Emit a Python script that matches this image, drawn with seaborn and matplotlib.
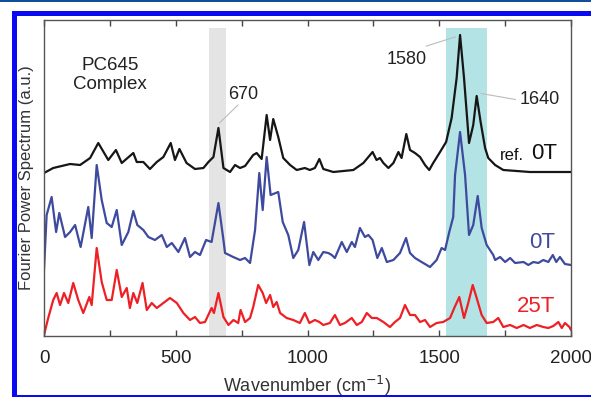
import matplotlib
matplotlib.use("Agg")
import matplotlib.pyplot as plt
import seaborn as sns
from matplotlib.patches import Rectangle
from matplotlib.ticker import MultipleLocator

# =========================
# DADES (llegides del gràfic)
# =========================
wn_ref = [0, 35, 99, 137, 175, 206, 244, 273, 295, 339, 352, 377, 402, 428, 453,
          481, 497, 514, 541, 573, 605, 624, 643, 662, 681, 706, 725, 744, 763,
          794, 807, 826, 845, 858, 870, 889, 908, 934, 959, 990, 1009, 1028, 1045,
          1060, 1098, 1136, 1174, 1212, 1231, 1247, 1262, 1275, 1288, 1307, 1326,
          1345, 1357, 1375, 1389, 1408, 1427, 1446, 1462, 1477, 1503, 1526, 1547,
          1566, 1579, 1594, 1613, 1629, 1642, 1657, 1674, 1686, 1712, 1743, 1794,
          1844, 1895, 1946, 2000]
int_ref = [163, 168, 172, 171, 178, 193, 176, 186, 173, 183, 174, 174, 167, 174, 179,
           193, 176, 187, 173, 167, 168, 174, 179, 208, 168, 164, 171, 168, 170,
           181, 183, 177, 221, 196, 217, 199, 178, 171, 166, 168, 166, 168, 177,
           167, 164, 165, 166, 173, 179, 184, 176, 178, 173, 168, 173,
           184, 178, 202, 186, 183, 179, 171, 166, 173, 184, 194, 218,
           258, 301, 258, 193, 211, 240, 214, 188, 178, 171, 166, 165,
           164, 164, 164, 164]

wn_0t = [0, 10, 29, 46, 58, 80, 99, 118, 139, 168, 181, 200, 219, 238, 257, 276,
         295, 320, 339, 354, 377, 396, 421, 447, 466, 485, 510, 535, 554, 573,
         592, 615, 636, 662, 681, 687, 718, 744, 763, 782, 801, 817, 830, 845,
         860, 889, 906, 927, 946, 965, 987, 1007, 1022, 1041, 1060, 1079, 1092,
         1104, 1130, 1149, 1168, 1180, 1199, 1218, 1231, 1247, 1265, 1282, 1301,
         1326, 1351, 1374, 1389, 1408, 1433, 1465, 1490, 1509, 1522, 1538, 1553,
         1560, 1579, 1598, 1613, 1629, 1646, 1661, 1680, 1705, 1712, 1731, 1750,
         1769, 1788, 1820, 1838, 1857, 1876, 1895, 1914, 1931, 1944, 1958, 1977,
         2000]
int_0t = [66, 121, 139, 104, 123, 99, 104, 111, 89, 129, 98, 171, 136, 113, 109, 126,
          91, 104, 125, 111, 106, 99, 96, 101, 89, 93, 84, 98, 79, 84,
          81, 96, 94, 133, 96, 83, 79, 76, 78, 73, 106, 163, 126, 179,
          141, 144, 114, 101, 78, 86, 114, 71, 84, 76, 84, 83, 81,
          78, 94, 84, 94, 89, 108, 99, 101, 96, 78, 88, 74,
          76, 83, 98, 83, 78, 74, 69, 76, 88, 86, 104, 119,
          161, 204, 161, 101, 111, 140, 108, 91, 81, 76, 79, 74,
          78, 73, 74, 71, 74, 73, 76, 74, 81, 74, 79, 72,
          71]

wn_25t = [0, 16, 35, 48, 61, 76, 92, 111, 130, 149, 172, 181, 200, 219, 238, 257,
          276, 295, 314, 326, 339, 354, 374, 390, 409, 428, 453, 478, 504, 529,
          554, 573, 592, 611, 636, 645, 662, 681, 700, 719, 737, 746, 763, 782,
          794, 813, 830, 843, 858, 870, 883, 896, 921, 946, 971, 990, 1007, 1028,
          1045, 1060, 1085, 1104, 1123, 1142, 1168, 1187, 1206, 1225, 1244, 1263,
          1288, 1313, 1332, 1351, 1370, 1389, 1408, 1427, 1446, 1465, 1490, 1515,
          1541, 1557, 1576, 1594, 1610, 1627, 1642, 1661, 1680, 1705, 1724, 1743,
          1769, 1794, 1820, 1844, 1870, 1895, 1914, 1933, 1952, 1965, 1977, 1994,
          2000]
int_25t = [1, 18, 36, 43, 31, 43, 33, 53, 36, 23, 39, 31, 88, 54, 36, 36,
           66, 39, 48, 28, 43, 33, 53, 26, 33, 28, 33, 38, 33, 23,
           16, 19, 13, 14, 28, 23, 43, 19, 11, 16, 13, 26, 14, 18,
           29, 51, 43, 33, 41, 29, 34, 23, 18, 16, 13, 23, 13, 16,
           14, 11, 13, 21, 11, 13, 18, 11, 14, 23, 18, 18,
           14, 9, 14, 18, 31, 21, 21, 14, 16, 9, 13, 14,
           18, 28, 39, 18, 33, 51, 38, 21, 13, 14, 18, 9,
           11, 8, 11, 8, 11, 9, 8, 10, 14, 8, 13, 9,
           6]

banda_670 = (628, 689)
banda_1600 = (1526, 1683)

# =========================
# FIGURA
# =========================
sns.set_style("ticks")
plt.rcParams['font.family'] = ['Liberation Sans', 'DejaVu Sans']

fig = plt.figure(figsize=(5.91, 3.97), dpi=100)
ax = fig.add_axes([44 / 591, 1 - 336 / 397, 527 / 591, 316 / 397])

# bandes ombrejades
ax.axvspan(*banda_670, ymin=0, ymax=0.975, color='#e4e4e4', lw=0, zorder=0)
ax.axvspan(*banda_1600, ymin=0, ymax=0.975, color='#b3e3e4', lw=0, zorder=0)

sns.lineplot(x=wn_ref, y=int_ref, ax=ax, color='#161616', lw=1.6, sort=False)
sns.lineplot(x=wn_0t, y=int_0t, ax=ax, color='#3e4a9e', lw=1.6, sort=False)
sns.lineplot(x=wn_25t, y=int_25t, ax=ax, color='#ee2026', lw=1.6, sort=False)

ax.set_xlim(0, 2000)
ax.set_ylim(0, 316)
ax.set_yticks([])
ax.xaxis.set_major_locator(MultipleLocator(500))
ax.xaxis.set_minor_locator(MultipleLocator(250))
ax.tick_params(axis='x', which='both', direction='in', top=True, length=4,
               width=1, color='#444444', labelsize=13.5, labelcolor='#222222', pad=10)
for s in ax.spines.values():
    s.set_color('#555555')
    s.set_linewidth(1)

ax.set_xlabel("Wavenumber (cm$^{-1}$)", fontsize=13, color='#333333', labelpad=5)
ax.set_ylabel("Fourier Power Spectrum (a.u.)", fontsize=12, color='#333333', labelpad=7)

# textos i línies guia
txt = dict(color='#222222', ha='center', va='center')
ax.text(250, 261, "PC645\nComplex", fontsize=13.5, linespacing=1.2, **txt)
guia = dict(arrowstyle='-', color='#bbbbbb', lw=0.8)
ax.annotate("", xy=(658, 211), xytext=(744, 233), arrowprops=guia)
ax.text(755, 241, "670", fontsize=13, **txt)
ax.annotate("", xy=(1572, 300), xytext=(1440, 289), arrowprops=guia)
ax.text(1376, 276, "1580", fontsize=13, **txt)
ax.annotate("", xy=(1648, 243), xytext=(1800, 236), arrowprops=guia)
ax.text(1882, 236, "1640", fontsize=13, **txt)
ax.text(1822, 180, "ref.", fontsize=12, color='#111111', ha='right', va='center')
ax.text(1946, 182, "0T", fontsize=16, color='#111111', ha='right', va='center')
ax.text(1890, 93, "0T", fontsize=16, color='#3e4a9e', ha='center', va='center')
ax.text(1867, 30, "25T", fontsize=16, color='#ee2026', ha='center', va='center')

# marc blau
fig.add_artist(Rectangle((0, 1 - 2 / 397), 1, 2 / 397, transform=fig.transFigure,
                         color='#0f4f9a', lw=0))
fig.add_artist(Rectangle((12 / 591, 0), 5 / 591, 1 - 11 / 397, transform=fig.transFigure,
                         color='#0a0af2', lw=0))
fig.add_artist(Rectangle((12 / 591, 1 - 16 / 397), 1, 5 / 397, transform=fig.transFigure,
                         color='#0a0af2', lw=0))
fig.add_artist(Rectangle((12 / 591, 0), 1, 2.5 / 397, transform=fig.transFigure,
                         color='#0a0af2', lw=0))

fig.savefig("out.png", dpi=100)
plt.close(fig)
